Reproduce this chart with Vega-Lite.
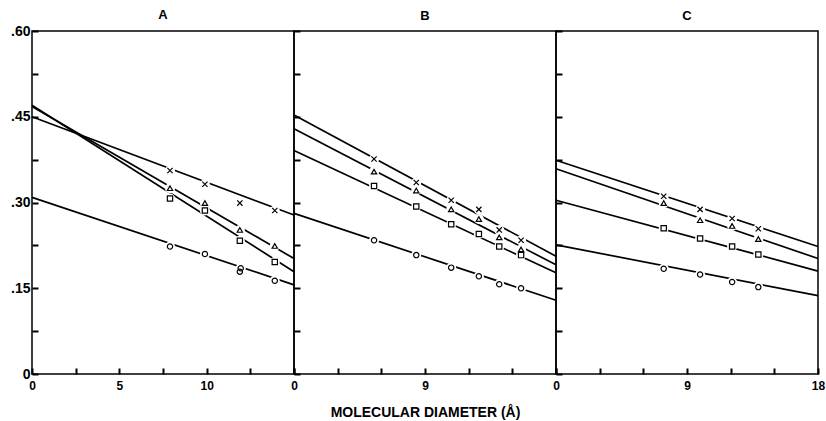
{
  "$schema": "https://vega.github.io/schema/vega-lite/v6.json",
  "background": "white",
  "padding": {"left": 9, "top": 8, "right": 2, "bottom": 2},
  "spacing": 0,
  "bounds": "flush",
  "config": {
    "font": "Liberation Sans",
    "view": {"stroke": "black", "strokeWidth": 1.5},
    "axis": {"domain": false, "grid": false, "labelFont": "Liberation Sans", "labelFontWeight": "bold", "labelFontSize": 12, "labelColor": "black", "labelOverlap": false, "labelFlush": false, "titleFont": "Liberation Sans", "titleFontWeight": "bold", "titleColor": "black"},
    "title": {"font": "Liberation Sans", "fontWeight": "bold", "fontSize": 13, "color": "black", "offset": 2}
  },
  "datasets": {
    "lines": [
      {"panel": "A", "series": "x", "d": 0, "v": 0.450}, {"panel": "A", "series": "x", "d": 15, "v": 0.278},
      {"panel": "A", "series": "tri", "d": 0, "v": 0.468}, {"panel": "A", "series": "tri", "d": 15, "v": 0.202},
      {"panel": "A", "series": "sq", "d": 0, "v": 0.470}, {"panel": "A", "series": "sq", "d": 15, "v": 0.179},
      {"panel": "A", "series": "circ", "d": 0, "v": 0.309}, {"panel": "A", "series": "circ", "d": 15, "v": 0.156},
      {"panel": "B", "series": "x", "d": 0, "v": 0.453}, {"panel": "B", "series": "x", "d": 18, "v": 0.206},
      {"panel": "B", "series": "tri", "d": 0, "v": 0.429}, {"panel": "B", "series": "tri", "d": 18, "v": 0.191},
      {"panel": "B", "series": "sq", "d": 0, "v": 0.391}, {"panel": "B", "series": "sq", "d": 18, "v": 0.177},
      {"panel": "B", "series": "circ", "d": 0, "v": 0.281}, {"panel": "B", "series": "circ", "d": 18, "v": 0.129},
      {"panel": "C", "series": "x", "d": 0, "v": 0.374}, {"panel": "C", "series": "x", "d": 18, "v": 0.223},
      {"panel": "C", "series": "tri", "d": 0, "v": 0.359}, {"panel": "C", "series": "tri", "d": 18, "v": 0.202},
      {"panel": "C", "series": "sq", "d": 0, "v": 0.304}, {"panel": "C", "series": "sq", "d": 18, "v": 0.180},
      {"panel": "C", "series": "circ", "d": 0, "v": 0.226}, {"panel": "C", "series": "circ", "d": 18, "v": 0.137}
    ],
    "pts": [
      {"panel": "A", "series": "x", "d": 7.9, "v": 0.356}, {"panel": "A", "series": "x", "d": 9.9, "v": 0.332}, {"panel": "A", "series": "x", "d": 11.9, "v": 0.299}, {"panel": "A", "series": "x", "d": 13.9, "v": 0.286},
      {"panel": "A", "series": "tri", "d": 7.9, "v": 0.325}, {"panel": "A", "series": "tri", "d": 9.9, "v": 0.299}, {"panel": "A", "series": "tri", "d": 11.9, "v": 0.252}, {"panel": "A", "series": "tri", "d": 13.9, "v": 0.224},
      {"panel": "A", "series": "sq", "d": 7.9, "v": 0.307}, {"panel": "A", "series": "sq", "d": 9.9, "v": 0.286}, {"panel": "A", "series": "sq", "d": 11.9, "v": 0.233}, {"panel": "A", "series": "sq", "d": 13.9, "v": 0.196},
      {"panel": "A", "series": "circ", "d": 7.9, "v": 0.223}, {"panel": "A", "series": "circ", "d": 9.9, "v": 0.210}, {"panel": "A", "series": "circ", "d": 11.9, "v": 0.179}, {"panel": "A", "series": "circ", "d": 11.95, "v": 0.185}, {"panel": "A", "series": "circ", "d": 13.9, "v": 0.163},
      {"panel": "B", "series": "x", "d": 5.5, "v": 0.376}, {"panel": "B", "series": "x", "d": 8.4, "v": 0.335}, {"panel": "B", "series": "x", "d": 10.8, "v": 0.304}, {"panel": "B", "series": "x", "d": 12.7, "v": 0.288}, {"panel": "B", "series": "x", "d": 14.1, "v": 0.252}, {"panel": "B", "series": "x", "d": 15.6, "v": 0.234},
      {"panel": "B", "series": "tri", "d": 5.5, "v": 0.354}, {"panel": "B", "series": "tri", "d": 8.4, "v": 0.321}, {"panel": "B", "series": "tri", "d": 10.8, "v": 0.288}, {"panel": "B", "series": "tri", "d": 12.7, "v": 0.271}, {"panel": "B", "series": "tri", "d": 14.1, "v": 0.239}, {"panel": "B", "series": "tri", "d": 15.6, "v": 0.218},
      {"panel": "B", "series": "sq", "d": 5.5, "v": 0.329}, {"panel": "B", "series": "sq", "d": 8.4, "v": 0.293}, {"panel": "B", "series": "sq", "d": 10.8, "v": 0.262}, {"panel": "B", "series": "sq", "d": 12.7, "v": 0.245}, {"panel": "B", "series": "sq", "d": 14.1, "v": 0.223}, {"panel": "B", "series": "sq", "d": 15.6, "v": 0.208},
      {"panel": "B", "series": "circ", "d": 5.5, "v": 0.234}, {"panel": "B", "series": "circ", "d": 8.4, "v": 0.208}, {"panel": "B", "series": "circ", "d": 10.8, "v": 0.186}, {"panel": "B", "series": "circ", "d": 12.7, "v": 0.171}, {"panel": "B", "series": "circ", "d": 14.1, "v": 0.157}, {"panel": "B", "series": "circ", "d": 15.6, "v": 0.150},
      {"panel": "C", "series": "x", "d": 7.4, "v": 0.311}, {"panel": "C", "series": "x", "d": 9.9, "v": 0.288}, {"panel": "C", "series": "x", "d": 12.1, "v": 0.272}, {"panel": "C", "series": "x", "d": 13.9, "v": 0.254},
      {"panel": "C", "series": "tri", "d": 7.4, "v": 0.299}, {"panel": "C", "series": "tri", "d": 9.9, "v": 0.269}, {"panel": "C", "series": "tri", "d": 12.1, "v": 0.259}, {"panel": "C", "series": "tri", "d": 13.9, "v": 0.236},
      {"panel": "C", "series": "sq", "d": 7.4, "v": 0.255}, {"panel": "C", "series": "sq", "d": 9.9, "v": 0.237}, {"panel": "C", "series": "sq", "d": 12.1, "v": 0.223}, {"panel": "C", "series": "sq", "d": 13.9, "v": 0.209},
      {"panel": "C", "series": "circ", "d": 7.4, "v": 0.184}, {"panel": "C", "series": "circ", "d": 9.9, "v": 0.174}, {"panel": "C", "series": "circ", "d": 12.1, "v": 0.161}, {"panel": "C", "series": "circ", "d": 13.9, "v": 0.152}
    ]
  },
  "resolve": {"scale": {"x": "independent", "y": "independent"}},
  "hconcat": [
    {
      "title": "A",
      "width": 262, "height": 343,
      "encoding": {
        "x": {"field": "d", "type": "quantitative", "scale": {"domain": [0, 15], "nice": false}, "axis": {"values": [0, 2.5, 5, 7.5, 10, 12.5, 15], "labelExpr": "(datum.value == 0 || datum.value == 5 || datum.value == 10) ? datum.label : ''", "ticks": true, "tickSize": 6, "tickColor": "black", "tickWidth": 2, "offset": -6, "zindex": 1, "labelPadding": 6, "title": null}},
        "y": {"field": "v", "type": "quantitative", "scale": {"domain": [0, 0.6], "nice": false}, "axis": {"values": [0, 0.075, 0.15, 0.225, 0.3, 0.375, 0.45, 0.525, 0.6], "labelExpr": "indexof([0,150,300,450,600], round(datum.value*1000)) >= 0 ? (datum.value == 0 ? '0' : replace(format(datum.value, '.2f'), '0.', '.')) : ''", "ticks": true, "tickSize": 6, "tickColor": "black", "tickWidth": 2, "offset": -6, "zindex": 1, "labelFontSize": 14, "labelPadding": 2, "title": null}}
      },
      "layer": [
        {"data": {"name": "lines"}, "transform": [{"filter": "datum.panel == 'A'"}], "mark": {"type": "line", "color": "black", "strokeWidth": 1.7}, "encoding": {"detail": {"field": "series"}}},
        {"data": {"name": "pts"}, "transform": [{"filter": "datum.panel == 'A'"}], "mark": {"type": "point", "shape": "circle", "filled": true, "fill": "white", "opacity": 1, "strokeWidth": 0, "size": 100}},
        {"data": {"name": "pts"}, "transform": [{"filter": "datum.panel == 'A'"}], "mark": {"type": "point", "filled": false, "color": "black", "opacity": 1, "strokeWidth": 1.2, "size": 28}, "encoding": {"shape": {"field": "series", "scale": {"domain": ["x", "tri", "sq", "circ"], "range": ["M-1,-1L1,1M-1,1L1,-1", "triangle-up", "square", "circle"]}, "legend": null}}}
      ]
    },
    {
      "title": "B",
      "width": 262, "height": 343,
      "encoding": {
        "x": {"field": "d", "type": "quantitative", "scale": {"domain": [0, 18], "nice": false}, "axis": {"values": [0, 3, 6, 9, 12, 15, 18], "labelExpr": "(datum.value == 0 || datum.value == 9) ? datum.label : ''", "ticks": true, "tickSize": 6, "tickColor": "black", "tickWidth": 2, "offset": -6, "zindex": 1, "labelPadding": 6, "title": "MOLECULAR DIAMETER (Å)", "titleFontSize": 14, "titlePadding": 14}},
        "y": {"field": "v", "type": "quantitative", "scale": {"domain": [0, 0.6], "nice": false}, "axis": {"values": [0, 0.075, 0.15, 0.225, 0.3, 0.375, 0.45, 0.525, 0.6], "labelExpr": "''", "ticks": true, "tickSize": 6, "tickColor": "black", "tickWidth": 2, "offset": -6, "zindex": 1, "title": null}}
      },
      "layer": [
        {"data": {"name": "lines"}, "transform": [{"filter": "datum.panel == 'B'"}], "mark": {"type": "line", "color": "black", "strokeWidth": 1.7}, "encoding": {"detail": {"field": "series"}}},
        {"data": {"name": "pts"}, "transform": [{"filter": "datum.panel == 'B'"}], "mark": {"type": "point", "shape": "circle", "filled": true, "fill": "white", "opacity": 1, "strokeWidth": 0, "size": 100}},
        {"data": {"name": "pts"}, "transform": [{"filter": "datum.panel == 'B'"}], "mark": {"type": "point", "filled": false, "color": "black", "opacity": 1, "strokeWidth": 1.2, "size": 28}, "encoding": {"shape": {"field": "series", "scale": {"domain": ["x", "tri", "sq", "circ"], "range": ["M-1,-1L1,1M-1,1L1,-1", "triangle-up", "square", "circle"]}, "legend": null}}}
      ]
    },
    {
      "title": "C",
      "width": 262, "height": 343,
      "encoding": {
        "x": {"field": "d", "type": "quantitative", "scale": {"domain": [0, 18], "nice": false}, "axis": {"values": [0, 3, 6, 9, 12, 15, 18], "labelExpr": "(datum.value == 0 || datum.value == 9 || datum.value == 18) ? datum.label : ''", "ticks": true, "tickSize": 6, "tickColor": "black", "tickWidth": 2, "offset": -6, "zindex": 1, "labelPadding": 6, "title": null}},
        "y": {"field": "v", "type": "quantitative", "scale": {"domain": [0, 0.6], "nice": false}, "axis": {"values": [0, 0.075, 0.15, 0.225, 0.3, 0.375, 0.45, 0.525, 0.6], "labelExpr": "''", "ticks": true, "tickSize": 6, "tickColor": "black", "tickWidth": 2, "offset": -6, "zindex": 1, "title": null}}
      },
      "layer": [
        {"data": {"name": "lines"}, "transform": [{"filter": "datum.panel == 'C'"}], "mark": {"type": "line", "color": "black", "strokeWidth": 1.7}, "encoding": {"detail": {"field": "series"}}},
        {"data": {"name": "pts"}, "transform": [{"filter": "datum.panel == 'C'"}], "mark": {"type": "point", "shape": "circle", "filled": true, "fill": "white", "opacity": 1, "strokeWidth": 0, "size": 100}},
        {"data": {"name": "pts"}, "transform": [{"filter": "datum.panel == 'C'"}], "mark": {"type": "point", "filled": false, "color": "black", "opacity": 1, "strokeWidth": 1.2, "size": 28}, "encoding": {"shape": {"field": "series", "scale": {"domain": ["x", "tri", "sq", "circ"], "range": ["M-1,-1L1,1M-1,1L1,-1", "triangle-up", "square", "circle"]}, "legend": null}}}
      ]
    }
  ]
}
